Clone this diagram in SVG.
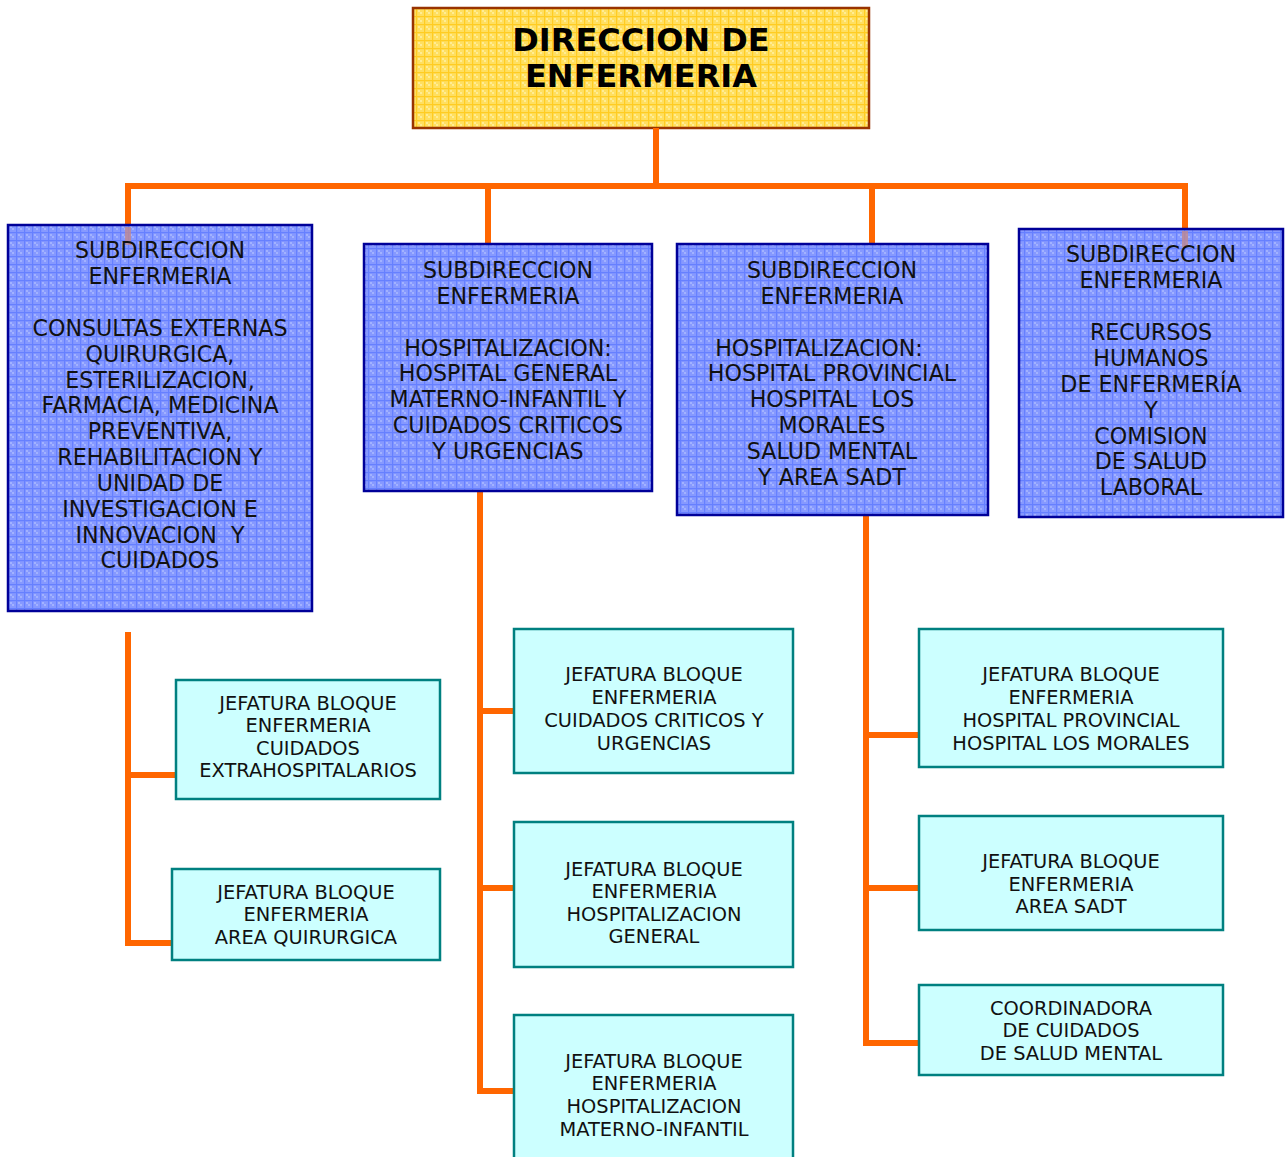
<svg xmlns="http://www.w3.org/2000/svg" width="1286" height="1157" viewBox="0 0 1286 1157">
<defs>
<pattern id="pBlue" x="0" y="0" width="8" height="8" patternUnits="userSpaceOnUse">
<rect width="8" height="8" fill="#8699ff"/>
<rect x="2" y="2" width="2" height="2" fill="#a2b2ff"/>
<rect x="4" y="4" width="2" height="2" fill="#a2b2ff"/>
<rect x="0" y="0" width="8" height="1.2" fill="#6680ff"/>
<rect x="0" y="0" width="1.2" height="8" fill="#6680ff"/>
</pattern>
<pattern id="pYellow" x="0" y="0" width="8" height="8" patternUnits="userSpaceOnUse">
<rect width="8" height="8" fill="#ffdf60"/>
<rect x="2" y="2" width="2" height="2" fill="#ffec94"/>
<rect x="4" y="4" width="2" height="2" fill="#ffec94"/>
<rect x="0" y="0" width="8" height="1.2" fill="#ffcc22"/>
<rect x="0" y="0" width="1.2" height="8" fill="#ffcc22"/>
</pattern>
</defs>
<style>
.blue{fill:url(#pBlue);stroke:#000099;stroke-width:2.5;}
.blueov{fill:#c08890;opacity:0.8;}
.cyan{fill:#ccffff;stroke:#008080;stroke-width:2.5;}
.top{fill:url(#pYellow);stroke:#993300;stroke-width:2.5;}
.conn{stroke:#ff6600;stroke-width:6;fill:none;stroke-linecap:butt;stroke-linejoin:miter;}
text{font-family:"DejaVu Sans",Verdana,sans-serif;fill:#000;text-anchor:middle;}
.tt{font-size:32px;font-weight:bold;}
.tb{font-size:22.2px;fill:#111;}
.tc{font-size:19.4px;fill:#111;}
</style>
<rect width="1286" height="1157" fill="#fff"/>

<g id="top">
<rect class="top" x="413" y="8" width="456" height="120"/>
<text class="tt" x="641" y="51">DIRECCION DE</text>
<text class="tt" x="641" y="87">ENFERMERIA</text>
</g>

<g id="connectors">
<polyline class="conn" points="656,128 656,186"/>
<polyline class="conn" points="128,226 128,186 1185,186 1185,230"/>
<polyline class="conn" points="488,186 488,245"/>
<polyline class="conn" points="872,186 872,245"/>
<polyline class="conn" points="128,632 128,943 176,943"/>
<polyline class="conn" points="128,775 176,775"/>
<polyline class="conn" points="480,491 480,1091 514,1091"/>
<polyline class="conn" points="480,711 514,711"/>
<polyline class="conn" points="480,888 514,888"/>
<polyline class="conn" points="866,515 866,1043 919,1043"/>
<polyline class="conn" points="866,735 919,735"/>
<polyline class="conn" points="866,888 919,888"/>
</g>

<g id="sub1">
<rect class="blue" x="8" y="225" width="304" height="386"/>
<rect class="blueov" x="125" y="227" width="6" height="18"/>
<text class="tb" x="160" y="258">SUBDIRECCION</text>
<text class="tb" x="160" y="284">ENFERMERIA</text>
<text class="tb" x="160" y="336">CONSULTAS EXTERNAS</text>
<text class="tb" x="160" y="362">QUIRURGICA,</text>
<text class="tb" x="160" y="388">ESTERILIZACION,</text>
<text class="tb" x="160" y="413">FARMACIA, MEDICINA</text>
<text class="tb" x="160" y="439">PREVENTIVA,</text>
<text class="tb" x="160" y="465">REHABILITACION Y</text>
<text class="tb" x="160" y="491">UNIDAD DE</text>
<text class="tb" x="160" y="517">INVESTIGACION E</text>
<text class="tb" x="160" y="543" xml:space="preserve">INNOVACION  Y</text>
<text class="tb" x="160" y="568">CUIDADOS</text>
</g>

<g id="sub2">
<rect class="blue" x="364" y="244" width="288" height="247"/>
<text class="tb" x="508" y="278">SUBDIRECCION</text>
<text class="tb" x="508" y="304">ENFERMERIA</text>
<text class="tb" x="508" y="356">HOSPITALIZACION:</text>
<text class="tb" x="508" y="381">HOSPITAL GENERAL</text>
<text class="tb" x="508" y="407">MATERNO-INFANTIL Y</text>
<text class="tb" x="508" y="433">CUIDADOS CRITICOS</text>
<text class="tb" x="508" y="459">Y URGENCIAS</text>
</g>

<g id="sub3">
<rect class="blue" x="677" y="244" width="311" height="271"/>
<text class="tb" x="832" y="278">SUBDIRECCION</text>
<text class="tb" x="832" y="304">ENFERMERIA</text>
<text class="tb" x="819" y="356">HOSPITALIZACION:</text>
<text class="tb" x="832" y="381">HOSPITAL PROVINCIAL</text>
<text class="tb" x="832" y="407" xml:space="preserve">HOSPITAL  LOS</text>
<text class="tb" x="832" y="433">MORALES</text>
<text class="tb" x="832" y="459">SALUD MENTAL</text>
<text class="tb" x="832" y="485">Y AREA SADT</text>
</g>

<g id="sub4">
<rect class="blue" x="1019" y="229" width="264" height="288"/>
<rect class="blueov" x="1182" y="231" width="6" height="16"/>
<text class="tb" x="1151" y="262">SUBDIRECCION</text>
<text class="tb" x="1151" y="288">ENFERMERIA</text>
<text class="tb" x="1151" y="340">RECURSOS</text>
<text class="tb" x="1151" y="366">HUMANOS</text>
<text class="tb" x="1151" y="392">DE ENFERMERÍA</text>
<text class="tb" x="1151" y="418">Y</text>
<text class="tb" x="1151" y="444">COMISION</text>
<text class="tb" x="1151" y="469">DE SALUD</text>
<text class="tb" x="1151" y="495">LABORAL</text>
</g>

<g id="jefExtra">
<rect class="cyan" x="176" y="680" width="264" height="119"/>
<text class="tc" x="308" y="710">JEFATURA BLOQUE</text>
<text class="tc" x="308" y="732">ENFERMERIA</text>
<text class="tc" x="308" y="755">CUIDADOS</text>
<text class="tc" x="308" y="777">EXTRAHOSPITALARIOS</text>
</g>

<g id="jefQuir">
<rect class="cyan" x="172" y="869" width="268" height="91"/>
<text class="tc" x="306" y="899">JEFATURA BLOQUE</text>
<text class="tc" x="306" y="921">ENFERMERIA</text>
<text class="tc" x="306" y="944">AREA QUIRURGICA</text>
</g>

<g id="jefCrit">
<rect class="cyan" x="514" y="629" width="279" height="144"/>
<text class="tc" x="654" y="681">JEFATURA BLOQUE</text>
<text class="tc" x="654" y="704">ENFERMERIA</text>
<text class="tc" x="654" y="727">CUIDADOS CRITICOS Y</text>
<text class="tc" x="654" y="750">URGENCIAS</text>
</g>

<g id="jefGen">
<rect class="cyan" x="514" y="822" width="279" height="145"/>
<text class="tc" x="654" y="876">JEFATURA BLOQUE</text>
<text class="tc" x="654" y="898">ENFERMERIA</text>
<text class="tc" x="654" y="921">HOSPITALIZACION</text>
<text class="tc" x="654" y="943">GENERAL</text>
</g>

<g id="jefMat">
<rect class="cyan" x="514" y="1015" width="279" height="160"/>
<text class="tc" x="654" y="1068">JEFATURA BLOQUE</text>
<text class="tc" x="654" y="1090">ENFERMERIA</text>
<text class="tc" x="654" y="1113">HOSPITALIZACION</text>
<text class="tc" x="654" y="1136">MATERNO-INFANTIL</text>
</g>

<g id="jefProv">
<rect class="cyan" x="919" y="629" width="304" height="138"/>
<text class="tc" x="1071" y="681">JEFATURA BLOQUE</text>
<text class="tc" x="1071" y="704">ENFERMERIA</text>
<text class="tc" x="1071" y="727">HOSPITAL PROVINCIAL</text>
<text class="tc" x="1071" y="750">HOSPITAL LOS MORALES</text>
</g>

<g id="jefSadt">
<rect class="cyan" x="919" y="816" width="304" height="114"/>
<text class="tc" x="1071" y="868">JEFATURA BLOQUE</text>
<text class="tc" x="1071" y="891">ENFERMERIA</text>
<text class="tc" x="1071" y="913">AREA SADT</text>
</g>

<g id="coordSM">
<rect class="cyan" x="919" y="985" width="304" height="90"/>
<text class="tc" x="1071" y="1015">COORDINADORA</text>
<text class="tc" x="1071" y="1037">DE CUIDADOS</text>
<text class="tc" x="1071" y="1060">DE SALUD MENTAL</text>
</g>
</svg>
